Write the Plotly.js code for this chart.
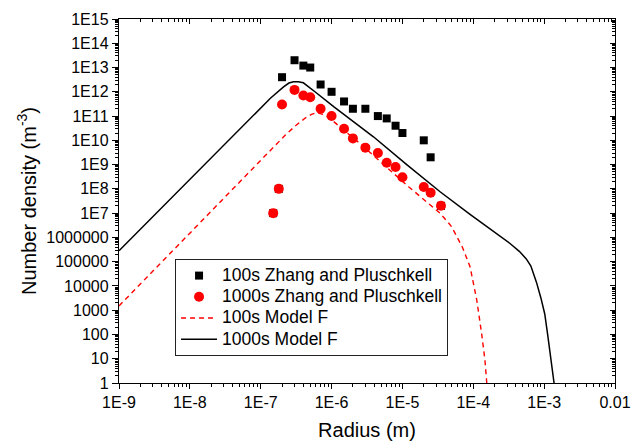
<!DOCTYPE html>
<html>
<head>
<meta charset="utf-8">
<script src="https://cdn.plot.ly/plotly-3.0.1.min.js"></script>
<style>html,body{margin:0;padding:0;background:#fff;}#chart{width:636px;height:441px;}</style>
</head>
<body>
<div id="chart"></div>
<script>
// ---- Data ----
const zp100X = [1.5e-7, 1.8e-7, 2e-7, 3e-7, 4e-7, 5e-7, 7e-7, 1e-6, 1.5e-6, 2e-6, 3e-6, 4.5e-6, 6e-6, 8e-6, 1e-5, 2e-5, 2.5e-5, 3.5e-5];
const zp100Y = [1e7, 1e8, 4e12, 2e13, 1.2e13, 1e13, 2e12, 1e12, 4e11, 2e11, 2e11, 1e11, 8e10, 4e10, 2e10, 1e10, 2e9, 2e7];

const zp1000X = [1.5e-7, 1.8e-7, 2e-7, 3e-7, 4e-7, 5e-7, 7e-7, 1e-6, 1.5e-6, 2e-6, 3e-6, 4.5e-6, 6e-6, 8e-6, 1e-5, 2e-5, 2.5e-5, 3.5e-5];
const zp1000Y = [1e7, 1e8, 3e11, 1.2e12, 7e11, 6e11, 2e11, 1e11, 3e10, 1.2e10, 5e9, 3e9, 1.2e9, 8e8, 3e8, 1.2e8, 7e7, 2e7];

const model100X = [1e-9, 1e-8, 1e-7, 2.23e-7, 3.1e-7, 4.3e-7, 5.2e-7, 6.2e-7, 8e-7, 1e-6, 1.5e-6, 2.5e-6, 1.22e-5, 2.45e-5, 3.4e-5, 4.93e-5, 7.05e-5, 9e-5, 1.12e-4, 1.31e-4, 1.46e-4, 1.55e-4];
const model100Y = [1.5e3, 1.5e6, 1.5e9, 1.66e10, 4e10, 8.5e10, 1.17e11, 1.38e11, 1.12e11, 7e10, 2.6e10, 7.5e9, 1.23e8, 2.2e7, 9.9e6, 2.8e6, 3.85e5, 6.2e4, 2.6e3, 112, 8.9, 1];

const model1000X = [1e-9, 1e-8, 3e-8, 7.2e-8, 1.37e-7, 2.1e-7, 2.5e-7, 2.9e-7, 3.4e-7, 4e-7, 5e-7, 6.2e-7, 1.07e-6, 1.33e-6, 3.9e-6, 1.15e-5, 3.4e-5, 9e-5, 2.5e-4, 3.3e-4, 4.5e-4, 5.6e-4, 6.5e-4, 7.8e-4, 9e-4, 1.02e-3, 1.12e-3, 1.2e-3, 1.3e-3, 1.38e-3];
const model1000Y = [2.8e5, 2.4e8, 6e9, 8e10, 5.4e11, 1.6e12, 2.3e12, 2.6e12, 2.6e12, 2.35e12, 1.45e12, 8.7e11, 2.45e11, 1.5e11, 1.4e10, 1e9, 7.6e7, 8.9e6, 1e6, 5.6e5, 2.6e5, 1.3e5, 6.6e4, 1.4e4, 3.2e3, 700, 100, 20, 2.8, 1];

const xTickVals = [1e-9, 1e-8, 1e-7, 1e-6, 1e-5, 1e-4, 1e-3, 1e-2];
const xTickText = ["1E-9", "1E-8", "1E-7", "1E-6", "1E-5", "1E-4", "1E-3", "0.01"];
const yTickVals = [1, 10, 100, 1e3, 1e4, 1e5, 1e6, 1e7, 1e8, 1e9, 1e10, 1e11, 1e12, 1e13, 1e14, 1e15];
const yTickText = ["1", "10", "100", "1000", "10000", "100000", "1000000", "1E7", "1E8", "1E9", "1E10", "1E11", "1E12", "1E13", "1E14", "1E15"];

const legendNames = ["100s Zhang and Pluschkell", "1000s Zhang and Pluschkell", "100s Model F", "1000s Model F"];

// minor tick positions (2..9 within each decade)
function minorTicks(e0, e1) {
  const v = [];
  for (let e = e0; e < e1; e++) for (let m = 2; m <= 9; m++) v.push(m * Math.pow(10, e));
  return v;
}
const xMinor = minorTicks(-9, -2);
const yMinor = minorTicks(0, 15);

const FONT = "Liberation Sans, Arial, sans-serif";
const legName = s => '<span style="font-size:17.5px">' + s + '</span>';

const traces = [
  { x: model100X, y: model100Y, mode: "lines", name: legName(legendNames[2]), legendrank: 3,
    line: { color: "#FF0000", width: 1.4, dash: "5px,4px" }, hoverinfo: "skip" },
  { x: model1000X, y: model1000Y, mode: "lines", name: legName(legendNames[3]), legendrank: 4,
    line: { color: "#000000", width: 1.5 }, hoverinfo: "skip" },
  { x: zp100X, y: zp100Y, mode: "markers", name: legName(legendNames[0]), legendrank: 1,
    marker: { symbol: "square", size: 8, color: "#000000" } },
  { x: zp1000X, y: zp1000Y, mode: "markers", name: legName(legendNames[1]), legendrank: 2,
    marker: { symbol: "circle", size: 10, color: "#FF0000" } },
  { x: [], y: [], xaxis: "x2", yaxis: "y2", showlegend: false, hoverinfo: "skip" }
];

const axCommon = {
  type: "log", showgrid: false, zeroline: false, showline: true,
  linecolor: "#000", linewidth: 1.2, tickcolor: "#000", tickwidth: 1,
  tickfont: { family: FONT, size: 16, color: "#000" }
};

const layout = {
  width: 636, height: 441,
  margin: { l: 119, r: 21, t: 19, b: 58 },
  paper_bgcolor: "#fff", plot_bgcolor: "#fff",
  font: { family: FONT, color: "#000" },
  showlegend: true,
  legend: {
    x: 0.113, y: 0.3407, xanchor: "left", yanchor: "top",
    bgcolor: "#fff", bordercolor: "#222", borderwidth: 1,
    font: { family: FONT, size: 14, color: "#000" },
    itemwidth: 36,
    tracegroupgap: 0
  },
  xaxis: Object.assign({}, axCommon, {
    range: [-9, -2], tickmode: "array", tickvals: xTickVals, ticktext: xTickText,
    ticks: "outside", ticklen: 5,
    minor: { tickmode: "array", tickvals: xMinor, ticks: "outside", ticklen: 3, tickcolor: "#000", tickwidth: 1, showgrid: false },
    title: { text: "Radius (m)", font: { family: FONT, size: 20, color: "#000" }, standoff: 12 }
  }),
  yaxis: Object.assign({}, axCommon, {
    range: [0, 15], tickmode: "array", tickvals: yTickVals, ticktext: yTickText,
    ticks: "outside", ticklen: 6,
    minor: { tickmode: "array", tickvals: yMinor, ticks: "outside", ticklen: 3, tickcolor: "#000", tickwidth: 1, showgrid: false },
    title: { text: "Number density (m<sup>-3</sup>)", font: { family: FONT, size: 20, color: "#000" }, standoff: 4 }
  }),
  xaxis2: Object.assign({}, axCommon, {
    overlaying: "x", side: "top", anchor: "y2", range: [-9, -2],
    tickmode: "array", tickvals: xTickVals, showticklabels: false,
    ticks: "inside", ticklen: 5,
    minor: { tickmode: "array", tickvals: xMinor, ticks: "inside", ticklen: 3, tickcolor: "#000", tickwidth: 1, showgrid: false }
  }),
  yaxis2: Object.assign({}, axCommon, {
    overlaying: "y", side: "right", anchor: "x2", range: [0, 15],
    tickmode: "array", tickvals: yTickVals, showticklabels: false,
    ticks: "inside", ticklen: 5,
    minor: { tickmode: "array", tickvals: yMinor, ticks: "inside", ticklen: 3, tickcolor: "#000", tickwidth: 1, showgrid: false }
  })
};

Plotly.newPlot("chart", traces, layout, { staticPlot: true, displayModeBar: false });
</script>
</body>
</html>
